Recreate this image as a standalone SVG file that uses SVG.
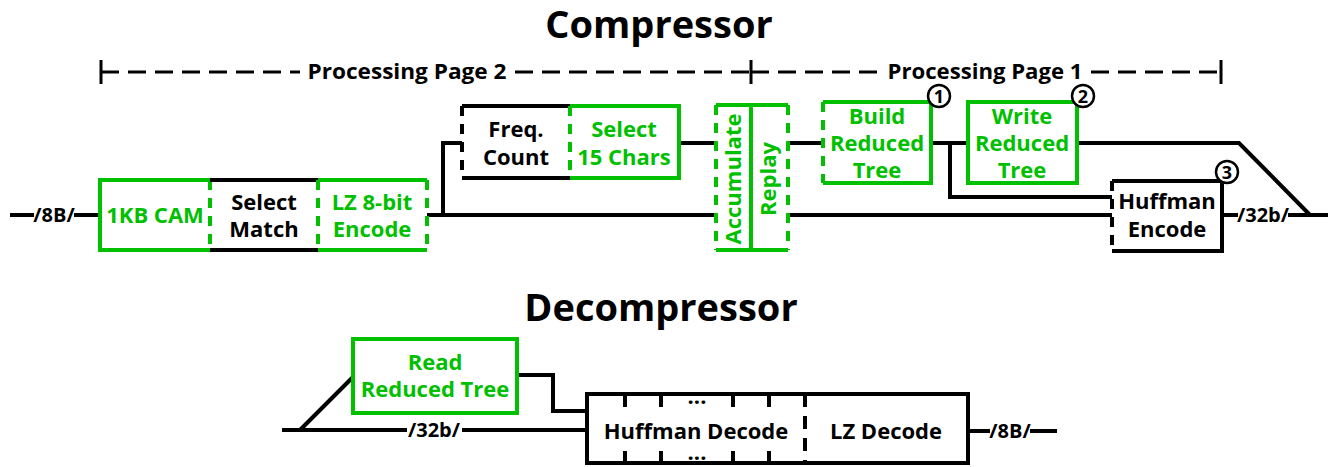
<svg xmlns="http://www.w3.org/2000/svg" width="1333" height="467" viewBox="0 0 1333 467">
<style>
.t{font-family:"Open Sans","Noto Sans","Liberation Sans",sans-serif;font-weight:700;font-size:22px;text-anchor:middle}
.title{font-size:38px}
.lbl{font-size:20px}
.g{fill:#00c000}
.k{fill:#000}
.gs{stroke:#00c000;stroke-width:4;fill:none}
.ks{stroke:#000;stroke-width:4;fill:none}
.d{stroke-dasharray:10 8}
.pd{stroke:#000;stroke-width:3;fill:none;stroke-dasharray:18 9}
.tick{stroke:#000;stroke-width:3}
.circ{stroke:#000;stroke-width:2.5;fill:#fff}
</style>
<rect width="1333" height="467" fill="#fff"/>
<g id="titles">
<text class="t title k" x="659" y="38">Compressor</text>
<text class="t title k" x="661" y="321">Decompressor</text>
</g>
<g id="processing-ranges">
<line class="tick" x1="101" y1="60" x2="101" y2="84"/>
<line class="tick" x1="751" y1="60" x2="751" y2="84"/>
<line class="tick" x1="1221" y1="60" x2="1221" y2="84"/>
<path class="pd" d="M101 72 H300"/>
<path class="pd" d="M515 72 H751"/>
<path class="pd" d="M751 72 H880"/>
<path class="pd" d="M1091 72 H1221"/>
<text class="t k" x="407" y="79" textLength="199" lengthAdjust="spacingAndGlyphs">Processing Page 2</text>
<text class="t k" x="985" y="79" textLength="195" lengthAdjust="spacingAndGlyphs">Processing Page 1</text>
</g>
<g id="connectors">
<path class="ks" d="M10 215 H34"/>
<path class="ks" d="M74 215 H100"/>
<path class="ks" d="M427 215 H716"/>
<path class="ks" d="M443 215 V143 H462"/>
<path class="ks" d="M679 143 H716"/>
<path class="ks" d="M788 143 H823"/>
<path class="ks" d="M788 215 H1112"/>
<path class="ks" d="M931 143 H968"/>
<path class="ks" d="M950 143 V197 H1112"/>
<path class="ks" d="M1077 143 H1239 L1310 215"/>
<path class="ks" d="M1222 215 H1238"/>
<path class="ks" d="M1288 215 H1328"/>
<path class="ks" d="M282 430 H407"/>
<path class="ks" d="M462 430 H587"/>
<path class="ks" d="M300 430 L353 377"/>
<path class="ks" d="M517 375 H553 V411 H587"/>
<path class="ks" d="M968 431 H990"/>
<path class="ks" d="M1030 431 H1057"/>
<text class="t lbl k" x="54" y="222">/8B/</text>
<text class="t lbl k" x="1263" y="222">/32b/</text>
<text class="t lbl k" x="434" y="437">/32b/</text>
<text class="t lbl k" x="1010" y="438">/8B/</text>
</g>
<g id="cam">
<path class="gs" d="M210 180 H100 V250 H210"/>
<path class="gs d" d="M210 180 V250"/>
<text class="t g" x="155" y="223">1KB CAM</text>
</g>
<g id="select-match">
<path class="ks" d="M210 180 H318 M210 250 H318"/>
<text class="t k" x="264" y="210">Select</text>
<text class="t k" x="264" y="237">Match</text>
</g>
<g id="lz-encode">
<path class="gs" d="M318 180 H427 M318 250 H427"/>
<path class="gs d" d="M318 180 V250 M427 180 V250"/>
<text class="t g" x="372" y="210">LZ 8-bit</text>
<text class="t g" x="372" y="237">Encode</text>
</g>
<g id="freq-count">
<path class="ks" d="M462 106 H570 M462 178 H570"/>
<path class="ks d" d="M462 106 V178"/>
<text class="t k" x="516" y="137">Freq.</text>
<text class="t k" x="516" y="165">Count</text>
</g>
<g id="select-chars">
<path class="gs" d="M570 106 H679 V178 H570"/>
<path class="gs d" d="M570 106 V178"/>
<text class="t g" x="624" y="137">Select</text>
<text class="t g" x="624" y="165">15 Chars</text>
</g>
<g id="accumulate">
<path class="gs" d="M716 105 H751 M716 250 H751 M751 105 V250"/>
<path class="gs d" d="M716 105 V250"/>
<text class="t g" transform="translate(741,179) rotate(-90)">Accumulate</text>
</g>
<g id="replay">
<path class="gs" d="M751 105 H788 M751 250 H788"/>
<path class="gs d" d="M788 105 V250"/>
<text class="t g" transform="translate(776,179) rotate(-90)">Replay</text>
</g>
<g id="build-tree">
<path class="gs" d="M823 102 H931 V183 H823"/>
<path class="gs d" d="M823 102 V183"/>
<text class="t g" x="877" y="124">Build</text>
<text class="t g" x="877" y="151">Reduced</text>
<text class="t g" x="877" y="178">Tree</text>
<circle class="circ" cx="939" cy="96" r="11"/>
<text class="t k" x="939" y="103" style="font-size:18px">1</text>
</g>
<g id="write-tree">
<rect class="gs" x="968" y="102" width="109" height="81"/>
<text class="t g" x="1022" y="124">Write</text>
<text class="t g" x="1022" y="151">Reduced</text>
<text class="t g" x="1022" y="178">Tree</text>
<circle class="circ" cx="1083" cy="96" r="11"/>
<text class="t k" x="1083" y="103" style="font-size:18px">2</text>
</g>
<g id="huffman-encode">
<path class="ks" d="M1112 181 H1222 V251 H1112"/>
<path class="ks d" d="M1112 181 V251"/>
<text class="t k" x="1167" y="209">Huffman</text>
<text class="t k" x="1167" y="237">Encode</text>
<circle class="circ" cx="1227" cy="172" r="11"/>
<text class="t k" x="1227" y="179" style="font-size:18px">3</text>
</g>
<g id="read-tree">
<rect class="gs" x="353" y="339" width="164" height="74"/>
<text class="t g" x="435" y="370">Read</text>
<text class="t g" x="435" y="397">Reduced Tree</text>
</g>
<g id="decoder">
<rect class="ks" x="587" y="394" width="381" height="69"/>
<path class="ks" d="M625 394 V407 M661 394 V407 M733 394 V407 M769 394 V407 M625 451 V463 M661 451 V463 M733 451 V463 M769 451 V463"/>
<path class="ks" d="M805 394 V463" style="stroke-dasharray:13 9"/>
<text class="t k" x="697" y="404" style="font-size:22px">...</text>
<text class="t k" x="697" y="460" style="font-size:22px">...</text>
<text class="t k" x="696" y="439">Huffman Decode</text>
<text class="t k" x="886" y="439">LZ Decode</text>
</g>
</svg>
